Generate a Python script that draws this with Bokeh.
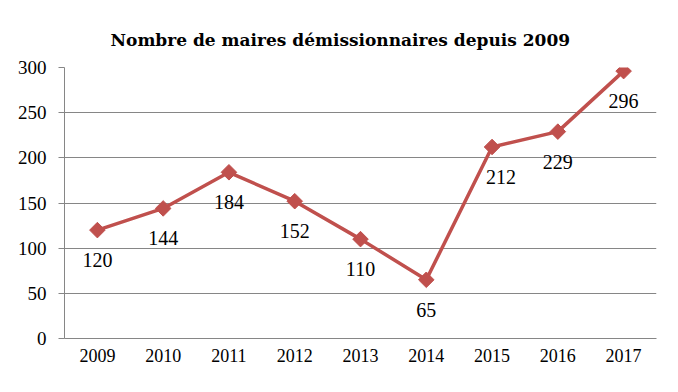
from bokeh.plotting import figure
from bokeh.models import ColumnDataSource, FixedTicker, Range1d
from bokeh.embed import file_html
from bokeh.resources import INLINE
from math import pi

years = [2009, 2010, 2011, 2012, 2013, 2014, 2015, 2016, 2017]
values = [120, 144, 184, 152, 110, 65, 212, 229, 296]
labels = [str(v) for v in values]
label_dx = [0, 0, 0, 0, 0, 0, 9, 0, 0]
y_ticks = [0, 50, 100, 150, 200, 250, 300]
title_text = "Nombre de maires démissionnaires depuis 2009"

FONT = "Liberation Serif"
TITLE_FONT = "DejaVu Serif"
RED = "#C0504D"
GRID = "#868686"

src = ColumnDataSource(dict(x=years, y=values, label=labels, dx=label_dx))

p = figure(width=662, height=376, output_backend="svg", toolbar_location=None,
           x_range=Range1d(2008.5, 2017.5), y_range=Range1d(0, 300),
           min_border_left=64, min_border_right=6, min_border_top=67, min_border_bottom=38)
p.outline_line_color = None
p.title.text = title_text
p.title.text_font = TITLE_FONT
p.title.text_font_size = "17px"
p.title.text_font_style = "bold"
p.title.text_color = "black"
p.title.align = "left"
p.title.offset = 46
p.title.vertical_align = "top"
p.title.standoff = 31

p.line("x", "y", source=src, line_color=RED, line_width=3.5)
p.scatter("x", "y", source=src, marker="square", angle=pi/4, size=11,
          fill_color=RED, line_color=RED)
p.text("x", "y", text="label", source=src, x_offset="dx", y_offset=30,
       text_font=FONT, text_font_size="20px", text_align="center",
       text_baseline="middle", text_color="black")

p.xaxis.ticker = FixedTicker(ticks=years)
p.yaxis.ticker = FixedTicker(ticks=y_ticks)
p.xaxis.major_tick_line_color = None
p.xaxis.minor_tick_line_color = None
p.xaxis.axis_line_color = GRID
p.yaxis.axis_line_color = GRID
p.yaxis.major_tick_line_color = GRID
p.yaxis.major_tick_out = 6
p.yaxis.major_tick_in = 0
p.yaxis.minor_tick_line_color = None
for ax in (p.xaxis, p.yaxis):
    ax.major_label_text_font = FONT
    ax.major_label_text_color = "black"
p.xaxis.major_label_text_font_size = "18px"
p.yaxis.major_label_text_font_size = "19px"
p.xaxis.major_label_standoff = 4
p.yaxis.major_label_standoff = 12
p.xgrid.grid_line_color = None
p.ygrid.grid_line_color = GRID
p.ygrid.ticker = FixedTicker(ticks=y_ticks)

open("out.html", "w").write(file_html(p, INLINE))
